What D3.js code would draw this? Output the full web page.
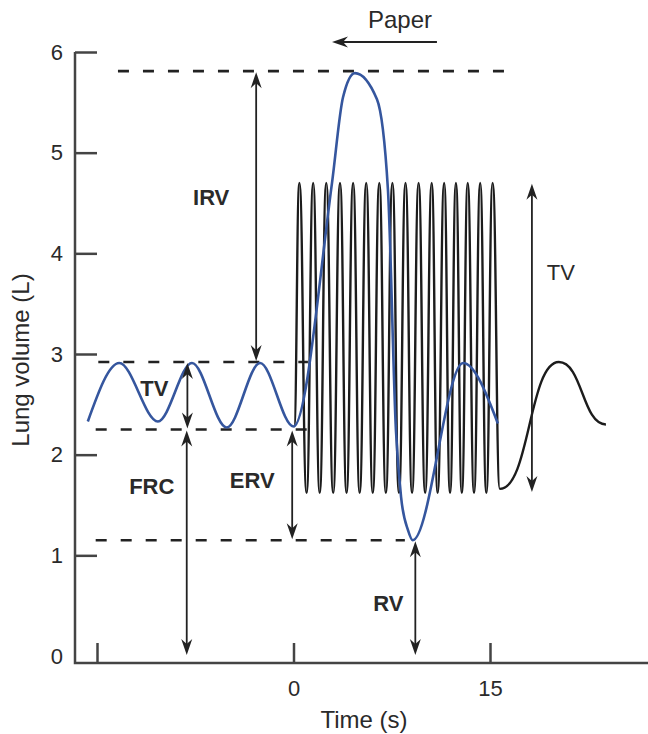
<!DOCTYPE html>
<html>
<head>
<meta charset="utf-8">
<script src="https://cdn.jsdelivr.net/npm/d3@7/dist/d3.min.js"></script>
<style>
  body { margin: 0; background: #fff; }
  text { font-family: "Liberation Sans", Arial, Helvetica, sans-serif; fill: #2a2a2a; }
</style>
</head>
<body>
<svg id="chart" width="648" height="734"></svg>
<script>
// ---- Data -------------------------------------------------------------
// Slow spirogram (blue): sampled points, time in s and lung volume in L
const slowTimes   = [-15.7, -13.3, -10.35, -7.75, -5.1, -2.55, 0.0,
                     2.94, 3.78, 4.69, 6.37, 7.21, 7.82, 8.21, 8.74, 9.1,
                     12.95, 15.6];
const slowVolumes = [2.33, 2.91, 2.33, 2.91, 2.27, 2.91, 2.28,
                     4.70, 5.55, 5.79, 5.53, 4.63, 2.24, 1.58, 1.25, 1.15,
                     2.91, 2.31];

// Rapid breathing trace (black): turning points
const fastTimes = [0.05,
  0.45, 1.0, 1.5, 2.0, 2.5, 3.03, 3.55, 4.05, 4.55, 5.05, 5.55, 6.05, 6.55, 7.05,
  7.55, 8.05, 8.55, 9.05, 9.55, 10.05, 10.55, 11.0, 11.5, 11.95, 12.4, 12.85,
  13.3, 13.78, 14.25, 14.72, 15.2, 15.75,
  20.25, 23.85];
const fastVolumes = [2.28,
  4.70, 1.62, 4.70, 1.62, 4.70, 1.62, 4.70, 1.62, 4.70, 1.62, 4.70, 1.62, 4.70, 1.62,
  4.70, 1.62, 4.70, 1.62, 4.70, 1.62, 4.70, 1.62, 4.70, 1.62, 4.70, 1.62,
  4.70, 1.62, 4.70, 1.62, 4.70, 1.66,
  2.92, 2.30];

// Dashed reference levels (L) and the time span each one covers (s)
const refVolumes = [5.81, 2.92, 2.25, 1.15];
const refStart   = [-13.4, -14.9, -15.1, -15.1];
const refEnd     = [16.3, 1.1, 1.1, 8.5];

// Measurement arrows: label, time of the arrow, volume at each end
const arrowLabels = ["IRV", "TV", "FRC", "ERV", "RV", "TV"];
const arrowTimes  = [-2.85, -8.1, -8.15, -0.1, 9.3, 18.2];
const arrowFrom   = [5.81, 2.92, 2.25, 2.25, 1.15, 4.70];
const arrowTo     = [2.92, 2.25, 0.0, 1.15, 0.0, 1.62];

// Axis ticks
const yTicks = [0, 1, 2, 3, 4, 5, 6];
const xTicks = [-15, 0, 15];
const xTickLabels = ["", "0", "15"];

// ---- Layout -----------------------------------------------------------
const W = 648, H = 734;
const svg = d3.select("#chart");

const x = d3.scaleLinear().domain([-15, 15]).range([97, 490]);
const y = d3.scaleLinear().domain([0, 6]).range([656, 52]);

const axisX = 75;          // left edge of the plot frame
const axisY = y(0) + 7;    // baseline of the frame
const ink = "#222";
const blue = "#35569e";

// label placement relative to each arrow: offset from the arrow shaft and its midpoint
const labelLayout = [
  { dx: -45, dy: -20, bold: true },
  { dx: -33, dy: -8,  bold: true },
  { dx: -35, dy: -57, bold: true },
  { dx: -40, dy: -5,  bold: true },
  { dx: -27, dy: 5,   bold: true },
  { dx: 29,  dy: -66, bold: false }
];

// ---- Axes -------------------------------------------------------------
svg.append("path")
  .attr("d", `M${axisX},${y(6)}V${axisY}H${W}`)
  .attr("fill", "none").attr("stroke", "#444").attr("stroke-width", 2.5);

const yAxis = d3.axisLeft(y).tickValues(yTicks)
  .tickSizeInner(-22).tickSizeOuter(0).tickPadding(12)
  .tickFormat(d3.format("d"));
const gy = svg.append("g").attr("transform", `translate(${axisX},0)`).call(yAxis);
gy.select(".domain").remove();
gy.selectAll(".tick line")
  .attr("stroke", "#444").attr("stroke-width", 2.5)
  .attr("display", d => d === 0 ? "none" : null);
gy.selectAll(".tick text")
  .attr("font-size", 22).attr("font-family", null).attr("fill", "#2a2a2a");

const xAxis = d3.axisBottom(x).tickValues(xTicks)
  .tickSizeInner(-20).tickSizeOuter(0).tickPadding(17)
  .tickFormat((d, i) => xTickLabels[i]);
const gx = svg.append("g").attr("transform", `translate(0,${axisY})`).call(xAxis);
gx.select(".domain").remove();
gx.selectAll(".tick line").attr("stroke", "#444").attr("stroke-width", 2.5);
gx.selectAll(".tick text")
  .attr("font-size", 22).attr("font-family", null).attr("fill", "#2a2a2a");

svg.append("text")
  .attr("transform", `translate(29,${360}) rotate(-90)`)
  .attr("text-anchor", "middle").attr("font-size", 24)
  .text("Lung volume (L)");

svg.append("text")
  .attr("x", 364).attr("y", 728)
  .attr("text-anchor", "middle").attr("font-size", 24)
  .text("Time (s)");

// ---- Dashed reference lines ------------------------------------------
svg.append("g").selectAll("line")
  .data(refVolumes)
  .join("line")
  .attr("x1", (d, i) => x(refStart[i]))
  .attr("x2", (d, i) => x(refEnd[i]))
  .attr("y1", d => y(d)).attr("y2", d => y(d))
  .attr("stroke", ink).attr("stroke-width", 2.6)
  .attr("stroke-dasharray", "11,14");

// ---- Traces -----------------------------------------------------------
// rapid trace: bump curve gives the steep flanks and rounded turns of a pen recording
const fastLine = d3.line()
  .x(d => x(d[0])).y(d => y(d[1]))
  .curve(d3.curveBumpX);

const slowLine = d3.line()
  .x(d => x(d[0])).y(d => y(d[1]))
  .curve(d3.curveMonotoneX);

svg.append("path")
  .datum(d3.zip(fastTimes, fastVolumes))
  .attr("d", fastLine)
  .attr("fill", "none").attr("stroke", "#1c1c1c").attr("stroke-width", 2.4)
  .attr("stroke-linejoin", "round");

svg.append("path")
  .datum(d3.zip(slowTimes, slowVolumes))
  .attr("d", slowLine)
  .attr("fill", "none").attr("stroke", blue).attr("stroke-width", 2.6);

// ---- Arrows -----------------------------------------------------------
function head(px, py, dir) {
  // dir = -1 points up, +1 points down; tip at (px, py)
  const L = 16, hw = 5.5, notch = 11;
  return `M${px},${py}L${px - hw},${py - dir * L}L${px},${py - dir * notch}L${px + hw},${py - dir * L}Z`;
}

const ga = svg.append("g");
arrowLabels.forEach((lab, i) => {
  const ax = x(arrowTimes[i]);
  const y1 = y(arrowFrom[i]), y2 = y(arrowTo[i]);
  ga.append("line")
    .attr("x1", ax).attr("x2", ax)
    .attr("y1", y1 + 8).attr("y2", y2 - 8)
    .attr("stroke", ink).attr("stroke-width", 1.8);
  ga.append("path").attr("d", head(ax, y1 + 1, -1)).attr("fill", ink);
  ga.append("path").attr("d", head(ax, y2 - 1, 1)).attr("fill", ink);

  const lay = labelLayout[i];
  ga.append("text")
    .attr("x", ax + lay.dx).attr("y", (y1 + y2) / 2 + lay.dy)
    .attr("dy", "0.36em")
    .attr("text-anchor", "middle")
    .attr("font-size", 22)
    .attr("font-weight", lay.bold ? "bold" : "normal")
    .text(lab);
});

// "Paper" direction marker above the plot
const paperY = 42;
svg.append("line")
  .attr("x1", x(10.95)).attr("x2", x(2.94) + 10)
  .attr("y1", paperY).attr("y2", paperY)
  .attr("stroke", ink).attr("stroke-width", 1.8);
svg.append("path")
  .attr("d", (() => {
    const px = x(2.94), L = 16, hw = 5.5, notch = 11;
    return `M${px},${paperY}L${px + L},${paperY - hw}L${px + notch},${paperY}L${px + L},${paperY + hw}Z`;
  })())
  .attr("fill", ink);
svg.append("text")
  .attr("x", 400).attr("y", 28)
  .attr("text-anchor", "middle").attr("font-size", 24)
  .text("Paper");
</script>
</body>
</html>
